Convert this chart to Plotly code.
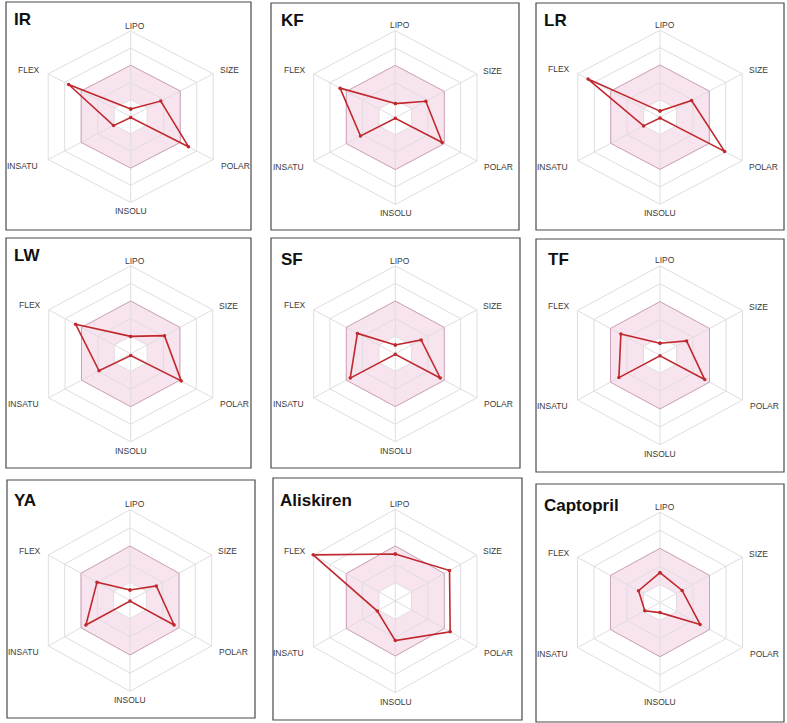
import math
import plotly.graph_objects as go

W, H = 787, 723

# ---------------- data ----------------
categories = ["LIPO", "SIZE", "POLAR", "INSOLU", "INSATU", "FLEX"]
compounds = ["IR", "KF", "LR", "LW", "SF", "TF", "YA", "Aliskiren", "Captopril"]

IR = [0.45, 1.82, 3.50, 0.05, 1.04, 3.76]
KF = [0.80, 1.87, 2.87, 0.05, 2.13, 3.38]
LR = [0.35, 1.92, 3.93, 0.05, 1.00, 4.38]
LW = [0.99, 2.06, 3.08, 0.10, 1.93, 3.36]
SF = [0.50, 1.58, 2.75, 0.03, 2.76, 2.32]
TF = [0.67, 1.61, 2.71, 0.03, 2.49, 2.37]
YA = [0.58, 1.61, 2.70, 0.03, 2.70, 2.02]
Aliskiren = [2.56, 3.32, 3.36, 2.16, 1.10, 5.03]
Captopril = [1.65, 1.34, 2.43, 0.56, 0.92, 1.30]

values = [IR, KF, LR, LW, SF, TF, YA, Aliskiren, Captopril]

optimal_low = 1.0   # inner edge of the pink optimal zone
optimal_high = 3.0  # outer edge of the pink optimal zone
radial_max = 5.0
grid_levels = [1, 2, 3, 4, 5]

# ---------------- layout (pixels) ----------------
# radar centre (cx, cy), vertical radius Rv, horizontal radius Rh (picture is stretched)
radar_geom = [
    (130.7, 116.7, 85.7, 95.3), (395.3, 117.5, 86.9, 94.3), (660.0, 117.2, 87.0, 94.9),
    (130.7, 353.8, 88.0, 94.7), (395.3, 353.8, 88.0, 94.3), (660.0, 355.3, 89.5, 95.3),
    (130.0, 600.5, 90.8, 94.3), (395.3, 601.0, 91.7, 94.3), (660.0, 602.5, 90.3, 95.3),
]
# panel boxes (x0, y0, x1, y1)
boxes = [
    (6, 2, 251, 230), (271, 3, 519, 230), (536, 3, 784, 230),
    (6, 238, 251, 468), (271, 238, 520, 468), (536, 239, 784, 472),
    (7, 480, 255, 718), (273, 478, 522, 720), (536, 484, 784, 722),
]
title_pos = [
    (12, 8), (279, 9), (542, 9),
    (12, 244), (279, 248), (546, 248),
    (12, 489), (278, 489), (542, 494),
]
# axis-label positions in axis units (x right, y up), radar outer radius = 1
label_pos = [(0.048, 1.06), (1.035, 0.54), (1.095, -0.57),
             (0.005, -1.10), (-1.133, -0.57), (-1.064, 0.55)]
SPAN = 1.2

GRID = "#e0dde0"
RED = "#c0282d"


def px2x(px):
    return px / W


def py2y(py):
    return 1 - py / H


angles = [math.radians(90 - 60 * k) for k in range(len(categories))]


def to_xy(rs):
    xs = [r / radial_max * math.cos(a) for r, a in zip(rs, angles)]
    ys = [r / radial_max * math.sin(a) for r, a in zip(rs, angles)]
    return xs + [xs[0]], ys + [ys[0]]


fig = go.Figure()
annotations = []
layout_axes = {}

for i, (name, vals) in enumerate(zip(compounds, values)):
    n = "" if i == 0 else str(i + 1)
    xa, ya = "x" + n, "y" + n
    cx, cy, Rv, Rh = radar_geom[i]
    layout_axes["xaxis" + n] = dict(domain=[px2x(cx - SPAN * Rh), px2x(cx + SPAN * Rh)],
                                    range=[-SPAN, SPAN], visible=False, fixedrange=True,
                                    anchor=ya)
    layout_axes["yaxis" + n] = dict(domain=[py2y(cy + SPAN * Rv), py2y(cy - SPAN * Rv)],
                                    range=[-SPAN, SPAN], visible=False, fixedrange=True,
                                    anchor=xa)
    # pink optimal ring (outer ring then inner ring reversed -> hole)
    ox, oy = to_xy([optimal_high] * 6)
    ix, iy = to_xy([optimal_low] * 6)
    fig.add_trace(go.Scatter(x=ox + ix[::-1], y=oy + iy[::-1], xaxis=xa, yaxis=ya,
                             mode="lines", line=dict(width=0), fill="toself",
                             fillcolor="rgba(225,150,190,0.26)",
                             hoverinfo="skip", showlegend=False))
    # grid hexagons
    for lv in grid_levels:
        gx, gy = to_xy([lv] * 6)
        fig.add_trace(go.Scatter(x=gx, y=gy, xaxis=xa, yaxis=ya, mode="lines",
                                 line=dict(color=GRID, width=1),
                                 hoverinfo="skip", showlegend=False))
    # spokes
    sx, sy = [], []
    ex, ey = to_xy([radial_max] * 6)
    for k in range(len(categories)):
        sx += [0, ex[k], None]
        sy += [0, ey[k], None]
    fig.add_trace(go.Scatter(x=sx, y=sy, xaxis=xa, yaxis=ya, mode="lines",
                             line=dict(color=GRID, width=1),
                             hoverinfo="skip", showlegend=False))
    # pink outline
    fig.add_trace(go.Scatter(x=ox, y=oy, xaxis=xa, yaxis=ya, mode="lines",
                             line=dict(color="rgba(200,140,170,0.75)", width=1),
                             hoverinfo="skip", showlegend=False))
    # compound profile
    px_, py_ = to_xy(vals)
    fig.add_trace(go.Scatter(x=px_, y=py_, xaxis=xa, yaxis=ya, mode="lines+markers",
                             line=dict(color=RED, width=1.6),
                             marker=dict(color=RED, size=3.5),
                             cliponaxis=False, name=name, showlegend=False))
    # axis labels
    for cat, (lx, ly) in zip(categories, label_pos):
        annotations.append(dict(text=cat, x=lx, y=ly, xref=xa, yref=ya,
                                xanchor="center", yanchor="middle", showarrow=False,
                                font=dict(family="Liberation Sans, Arial", size=8.5,
                                          color="#3a3a3a")))

shapes = []
for (x0, y0, x1, y1) in boxes:
    shapes.append(dict(type="rect", xref="paper", yref="paper",
                       x0=px2x(x0), x1=px2x(x1), y0=py2y(y1), y1=py2y(y0),
                       line=dict(color="#4a4a4a", width=1.2)))

for name, (tx, ty) in zip(compounds, title_pos):
    annotations.append(dict(text=f"<b>{name}</b>", x=px2x(tx), y=py2y(ty),
                            xref="paper", yref="paper", xanchor="left",
                            yanchor="top", showarrow=False,
                            font=dict(family="Liberation Sans, Arial", size=17,
                                      color="#111")))

fig.update_layout(width=W, height=H, margin=dict(l=0, r=0, t=0, b=0),
                  paper_bgcolor="white", plot_bgcolor="white",
                  shapes=shapes, annotations=annotations, **layout_axes)

fig.write_html("out.html", config={"displayModeBar": False},
               post_script="document.body.style.margin='0';document.body.style.padding='0';")
